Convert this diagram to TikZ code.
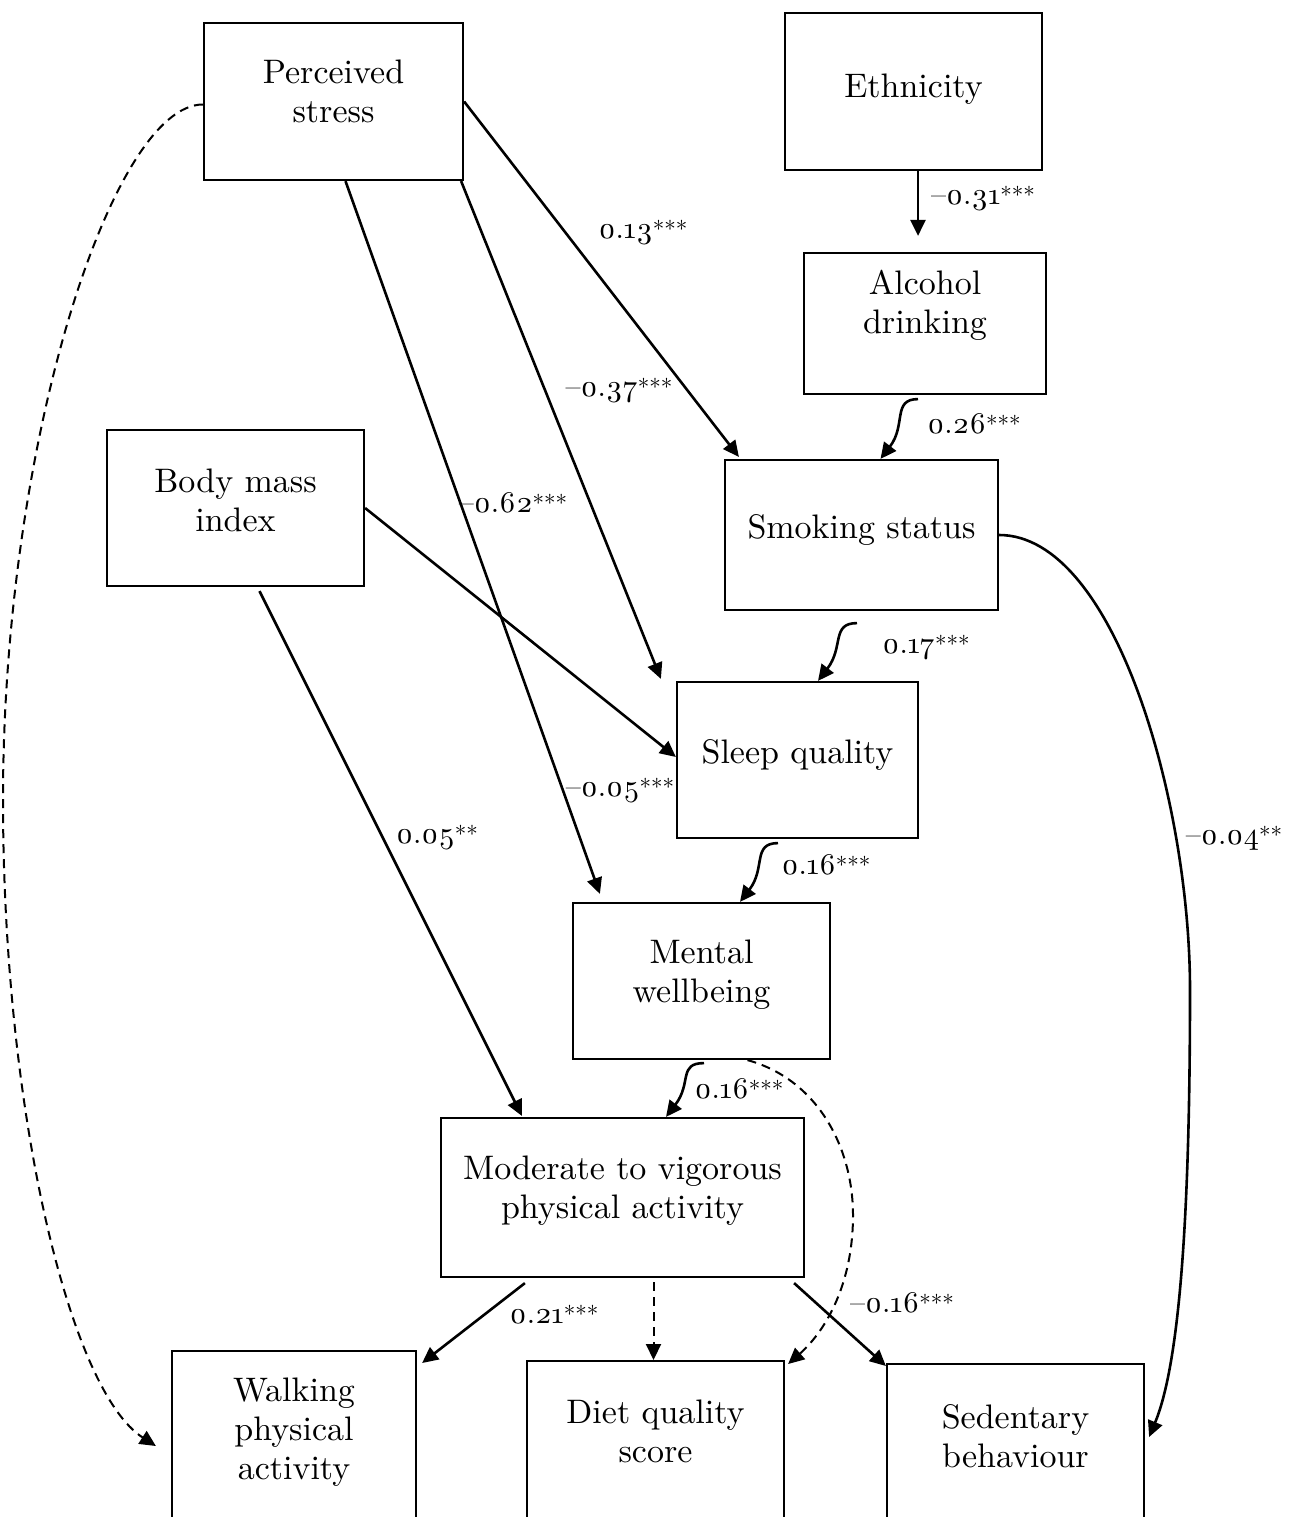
\documentclass[tikz,border=0pt]{standalone}
\usepackage{fontspec}
\setmainfont{lmroman10-regular.otf}[Numbers=OldStyle]
\usetikzlibrary{arrows.meta}
\newcommand\sigstars[1]{\raisebox{1pt}{\fontsize{23}{23}\selectfont#1}}
\begin{document}
\begin{tikzpicture}[>={Triangle[length=16pt,width=15pt]},x=1pt,y=-1pt,
    box/.style={draw,line width=2.2pt,align=center,inner sep=0pt,
        font=\fontsize{34}{39}\selectfont},
    arr/.style={->,line width=2.6pt},
    darr/.style={->,line width=2pt,dash pattern=on 9pt off 6pt},
    coef/.style={font=\fontsize{30}{34}\selectfont,inner sep=0pt}]
    \useasboundingbox (0,0) rectangle (1292,1517);
    \clip (0,0) rectangle (1292,1517);
    % boxes
    \node[box,minimum width=259pt,minimum height=157pt] (stress) at (333.5,101.5) {Perceived\\stress\\[-19pt]\mbox{}};
    \node[box,minimum width=257pt,minimum height=157pt] (ethn) at (913.5,91.5) {Ethnicity\\[-27pt]\mbox{}};
    \node[box,minimum width=242pt,minimum height=141pt] (alc) at (925,323.5) {Alcohol\\drinking\\[4pt]\mbox{}};
    \node[box,minimum width=273pt,minimum height=150pt] (smok) at (861.5,535) {Smoking status\\[-23pt]\mbox{}};
    \node[box,minimum width=257pt,minimum height=156pt] (bmi) at (235.5,508) {Body mass\\index\\[-23pt]\mbox{}};
    \node[box,minimum width=241pt,minimum height=156pt] (sleep) at (797.5,760) {Sleep quality\\[-23pt]\mbox{}};
    \node[box,minimum width=257pt,minimum height=156pt] (mental) at (701.5,981) {Mental\\wellbeing\\[-20pt]\mbox{}};
    \node[box,minimum width=363pt,minimum height=159pt] (mvpa) at (622.5,1197.5) {Moderate to vigorous\\physical activity\\[-18pt]\mbox{}};
    \node[box,anchor=north,minimum width=244pt,minimum height=195pt] (walk) at (294,1350) {Walking\\physical\\activity\\\mbox{}};
    \node[box,anchor=north,minimum width=257pt,minimum height=179pt] (diet) at (655.5,1360) {Diet quality\\score\\\mbox{}};
    \node[box,anchor=north,minimum width=257pt,minimum height=183pt] (sed) at (1015.5,1363) {Sedentary\\behaviour\\\mbox{}};
    % straight paths
    \draw[arr] ([xshift=4.5pt]ethn.south) -- ([xshift=-7pt,yshift=16pt]alc.north);
    \draw[arr] (stress.east) -- ([xshift=15pt,yshift=2pt]smok.north west);
    \draw[arr] ([xshift=-3pt]stress.south east) -- ([xshift=-15pt,yshift=2pt]sleep.north west);
    \draw[arr] ([xshift=12pt]stress.south) -- ([xshift=28pt,yshift=8pt]mental.north west);
    \draw[arr] (bmi.east) -- ([yshift=3pt]sleep.west);
    \draw[arr] ([xshift=24pt,yshift=-4pt]bmi.south) -- ([xshift=82pt,yshift=1pt]mvpa.north west);
    \draw[arr] ([xshift=85pt,yshift=-5pt]mvpa.south west) -- ([xshift=5pt,yshift=-13pt]walk.north east);
    \draw[darr] ([xshift=31pt,yshift=-4pt]mvpa.south) -- ([xshift=-2pt]diet.north);
    \draw[arr] ([xshift=-11pt,yshift=-5pt]mvpa.south east) -- ([yshift=-3pt]sed.north west);
    % small bends down the chain
    \draw[arr] ([xshift=-7pt,yshift=-4pt]alc.south) .. controls +(-26,0) and +(26,-34) .. ([xshift=19pt]smok.north);
    \draw[arr] ([xshift=-4.5pt,yshift=-12pt]smok.south) .. controls +(-26,0) and +(26,-34) .. ([xshift=20.5pt]sleep.north);
    \draw[arr] ([xshift=-19.5pt,yshift=-4pt]sleep.south) .. controls +(-26,0) and +(26,-34) .. ([xshift=38.5pt]mental.north);
    \draw[arr] ([xshift=2.5pt,yshift=-3pt]mental.south) .. controls +(-26,0) and +(26,-34) .. ([xshift=43.5pt]mvpa.north);
    % long curves
    \coordinate (dietbend) at (853,1215);
    \coordinate (sedbend) at (1190,990);
    \coordinate (walkbend) at (3,800);
    \draw[darr] ([xshift=46pt]mental.south) .. controls +(72,20) and +(0,-65) .. (dietbend)%
        .. controls +(0,75) and +(33,-29) .. ([xshift=3pt,yshift=-4pt]diet.north east);
    \draw[arr] (smok.east) .. controls +(115,0) and +(0,-190) .. (sedbend)%
        .. controls +(0,210) and +(32,-77) .. ([xshift=4pt,yshift=-74pt]sed.north east);
    \draw[darr] ([yshift=-3pt]stress.west) .. controls +(-90,0) and +(0,-360) .. (walkbend)%
        .. controls +(0,310) and +(-87,-56) .. ([xshift=-15pt,yshift=-96pt]walk.north west);
    % coefficients
    \node[coef] (c31) at (983,199) {--0.31\sigstars{***}};
    \node[coef] (c13) at (643,233) {0.13\sigstars{***}};
    \node[coef] (c26) at (974,424) {0.26\sigstars{***}};
    \node[coef] (c37) at (619,391) {--0.37\sigstars{***}};
    \node[coef] (c62) at (513,503) {--0.62\sigstars{***}};
    \node[coef] (c17) at (926,648) {0.17\sigstars{***}};
    \node[coef] (c05n) at (620,791) {--0.05\sigstars{***}};
    \node[coef] (c05) at (437,838) {0.05\sigstars{**}};
    \node[coef] (c04) at (1234,838) {--0.04\sigstars{**}};
    \node[coef] (c16a) at (826,865) {0.16\sigstars{***}};
    \node[coef] (c16b) at (739,1089) {0.16\sigstars{***}};
    \node[coef] (c21) at (554,1315) {0.21\sigstars{***}};
    \node[coef] (c16n) at (902,1303) {--0.16\sigstars{***}};
\end{tikzpicture}
\end{document}
